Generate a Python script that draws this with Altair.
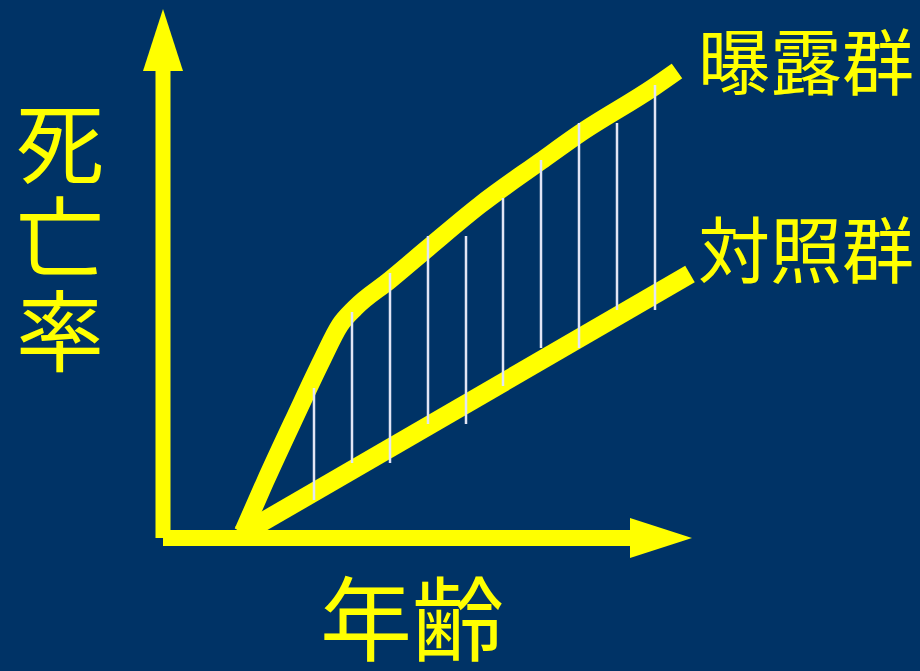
import altair as alt
import pandas as pd

# Diagram coordinates: origin at the axis corner, units = px
exp_x = [80, 102, 133, 159, 177, 192, 227, 265, 317, 378, 416, 491, 514]
exp_y = [5, 55, 122, 177, 212, 229, 257, 289, 332, 376, 403, 450, 466]
ctrl_x = [77, 527]
ctrl_y = [2, 263]
gap_x = [151, 189, 227, 265, 303, 340, 378, 416, 454, 492]
gap_top = [149, 225, 264, 301, 301, 339, 377, 414, 414, 452]
gap_bot = [37, 74, 74, 113, 113, 151, 189, 189, 227, 227]

axis_x_end, axis_y_end = 467, 466
arrow_len, arrow_half = 62, 20

group_labels = ["曝露群", "対照群"]
group_label_x = [535, 535]
group_label_y = [470, 282]
x_title, y_title = "年齢", "死\n亡\n率"

BG = "#003366"
YEL = "#FFFF00"
WHITE = "#E2E5F5"

xs = alt.Scale(domain=[-163, 757], nice=False, zero=False)
ys = alt.Scale(domain=[-134, 537], nice=False, zero=False)

def X(f):
    return alt.X(f, type="quantitative", scale=xs, axis=None)

def Y(f):
    return alt.Y(f, type="quantitative", scale=ys, axis=None)

exp_df = pd.DataFrame({"x": exp_x, "y": exp_y, "o": range(len(exp_x))})
ctrl_df = pd.DataFrame({"x": ctrl_x, "y": ctrl_y, "o": range(len(ctrl_x))})
gap_df = pd.DataFrame({"x": gap_x, "y1": gap_top, "y2": gap_bot})

exp_line = alt.Chart(exp_df).mark_line(color=YEL, strokeWidth=18, strokeCap="butt", strokeJoin="round",
                                       interpolate="monotone").encode(
    x=X("x"), y=Y("y"), order="o:Q")
ctrl_line = alt.Chart(ctrl_df).mark_line(color=YEL, strokeWidth=19, strokeCap="butt").encode(
    x=X("x"), y=Y("y"), order="o:Q")
gaps = alt.Chart(gap_df).mark_rule(color=WHITE, strokeWidth=2.5).encode(
    x=X("x"), y=Y("y1"), y2="y2")

vaxis_df = pd.DataFrame({"x": [0], "y1": [-1], "y2": [axis_y_end]})
haxis_df = pd.DataFrame({"y": [-1], "x1": [0], "x2": [axis_x_end]})
vaxis = alt.Chart(vaxis_df).mark_rule(color=YEL, strokeWidth=15).encode(x=X("x"), y=Y("y1"), y2="y2")
haxis = alt.Chart(haxis_df).mark_rule(color=YEL, strokeWidth=16).encode(y=Y("y"), x=X("x1"), x2="x2")

varrow_df = pd.DataFrame({
    "x": [-arrow_half, 0, arrow_half],
    "y": [axis_y_end, axis_y_end + arrow_len, axis_y_end],
    "b": [axis_y_end] * 3,
})
harrow_df = pd.DataFrame({
    "y": [-1 - arrow_half, -1, -1 + arrow_half],
    "x": [axis_x_end, axis_x_end + arrow_len, axis_x_end],
    "b": [axis_x_end] * 3,
})
varrow = alt.Chart(varrow_df).mark_area(color=YEL, orient="vertical").encode(
    x=X("x"), y=Y("y"), y2="b")
harrow = alt.Chart(harrow_df).mark_area(color=YEL, orient="horizontal").encode(
    y=Y("y"), x=X("x"), x2="b")

FONT = "Noto Sans CJK JP"
lab_df = pd.DataFrame({"x": group_label_x, "y": group_label_y, "t": group_labels})
labels = alt.Chart(lab_df).mark_text(font=FONT, fontSize=72, color=YEL, align="left", baseline="middle").encode(
    x=X("x"), y=Y("y"), text="t:N")

xt_df = pd.DataFrame({"x": [249], "y": [-89], "t": [x_title]})
xtitle = alt.Chart(xt_df).mark_text(font=FONT, fontSize=92, color=YEL, align="center", baseline="middle").encode(
    x=X("x"), y=Y("y"), text="t:N")
yt_df = pd.DataFrame({"x": [-103], "y": [387], "t": [y_title]})
ytitle = alt.Chart(yt_df).mark_text(font=FONT, fontSize=88, lineHeight=94, lineBreak="\n", color=YEL,
                                    align="center", baseline="middle").encode(
    x=X("x"), y=Y("y"), text="t:N")

chart = alt.layer(exp_line, ctrl_line, gaps, vaxis, haxis, varrow, harrow, labels, xtitle, ytitle).properties(
    width=920, height=671, background=BG, padding=0, autosize=alt.AutoSizeParams(type="none")
).configure_view(stroke=None)

chart.save("out.html", embed_options={"renderer": "svg", "actions": False})
